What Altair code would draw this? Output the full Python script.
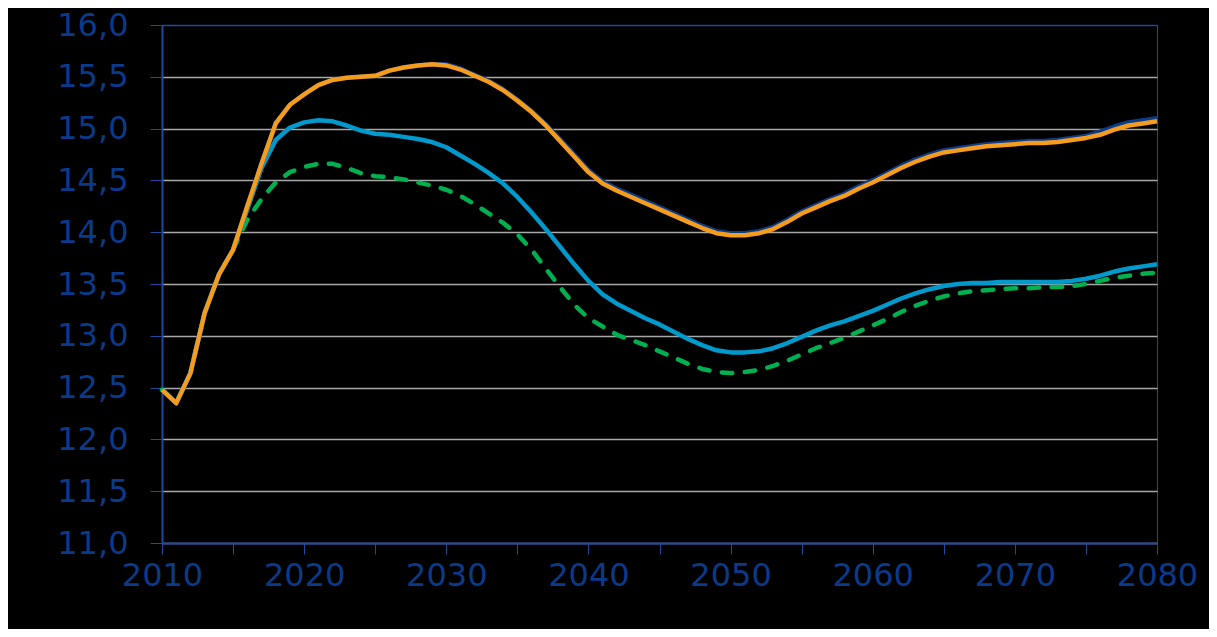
import altair as alt
import pandas as pd

years = list(range(2010, 2081))

orange = [12.48, 12.35, 12.64, 13.22, 13.59, 13.83, 14.25, 14.66, 15.05, 15.23,
          15.33, 15.42, 15.47, 15.49, 15.50, 15.51, 15.56, 15.59, 15.61, 15.62,
          15.61, 15.57, 15.51, 15.45, 15.37, 15.27, 15.16, 15.03, 14.88, 14.73,
          14.58, 14.47, 14.40, 14.34, 14.28, 14.22, 14.16, 14.10, 14.04, 13.99,
          13.97, 13.97, 13.99, 14.03, 14.10, 14.18, 14.24, 14.30, 14.35, 14.42,
          14.48, 14.55, 14.62, 14.68, 14.73, 14.77, 14.79, 14.81, 14.83, 14.84,
          14.85, 14.86, 14.86, 14.87, 14.89, 14.91, 14.94, 14.99, 15.03, 15.05,
          15.07]

navy = [12.48, 12.35, 12.64, 13.22, 13.59, 13.83, 14.25, 14.66, 15.05, 15.23,
        15.33, 15.42, 15.47, 15.49, 15.50, 15.51, 15.56, 15.59, 15.61, 15.62,
        15.62, 15.58, 15.52, 15.46, 15.38, 15.28, 15.17, 15.04, 14.90, 14.75,
        14.60, 14.49, 14.42, 14.36, 14.30, 14.24, 14.18, 14.12, 14.06, 14.01,
        13.99, 13.99, 14.01, 14.05, 14.12, 14.20, 14.26, 14.32, 14.37, 14.44,
        14.50, 14.57, 14.64, 14.70, 14.75, 14.79, 14.81, 14.83, 14.85, 14.86,
        14.87, 14.88, 14.88, 14.89, 14.91, 14.93, 14.97, 15.02, 15.06, 15.08,
        15.10]

light_blue = [12.48, 12.35, 12.64, 13.22, 13.59, 13.83, 14.22, 14.62, 14.89, 15.01,
              15.06, 15.08, 15.07, 15.03, 14.98, 14.95, 14.94, 14.92, 14.90, 14.87,
              14.82, 14.74, 14.66, 14.57, 14.47, 14.34, 14.19, 14.03, 13.86, 13.69,
              13.53, 13.40, 13.31, 13.24, 13.17, 13.11, 13.04, 12.97, 12.91, 12.86,
              12.84, 12.84, 12.85, 12.88, 12.93, 12.99, 13.05, 13.10, 13.14, 13.19,
              13.24, 13.30, 13.36, 13.41, 13.45, 13.48, 13.50, 13.51, 13.51, 13.52,
              13.52, 13.52, 13.52, 13.52, 13.53, 13.55, 13.58, 13.62, 13.65, 13.67,
              13.69]

green = [12.48, 12.35, 12.64, 13.22, 13.59, 13.83, 14.12, 14.32, 14.48, 14.58,
         14.63, 14.66, 14.66, 14.62, 14.57, 14.54, 14.53, 14.51, 14.48, 14.45,
         14.41, 14.35, 14.27, 14.18, 14.09, 13.98, 13.83, 13.65, 13.47, 13.30,
         13.17, 13.09, 13.01, 12.96, 12.91, 12.85, 12.79, 12.73, 12.68, 12.65,
         12.64, 12.65, 12.67, 12.71, 12.76, 12.82, 12.88, 12.93, 12.98, 13.04,
         13.10, 13.16, 13.23, 13.29, 13.34, 13.38, 13.41, 13.43, 13.44, 13.45,
         13.46, 13.46, 13.47, 13.47, 13.48, 13.50, 13.53, 13.56, 13.58, 13.60,
         13.61]

series = {"green": green, "light_blue": light_blue, "navy": navy, "orange": orange}
colors = {"green": "#00B050", "light_blue": "#0099CC", "navy": "#0A3C8C", "orange": "#F49C1E"}

rows = []
for name, vals in series.items():
    for y, v in zip(years, vals):
        rows.append({"year": y, "value": v, "series": name})
df = pd.DataFrame(rows)

AXIS_BLUE = "#1F4A9E"
LABEL_BLUE = "#0B3A8A"

x_enc = alt.X("year:Q",
              scale=alt.Scale(domain=[2010, 2080], nice=False, zero=False),
              axis=alt.Axis(values=list(range(2010, 2081, 5)),
                            labelExpr="datum.value % 10 == 0 ? datum.label : ''",
                            format="d", grid=False, title=None,
                            domainColor=AXIS_BLUE, domainWidth=2,
                            tickColor=AXIS_BLUE, tickWidth=1, tickSize=11,
                            labelColor=LABEL_BLUE, labelFont="DejaVu Sans",
                            labelFontSize=32, labelPadding=6, labelFlush=False,
                            labelOverlap=False))
y_enc = alt.Y("value:Q",
              scale=alt.Scale(domain=[11, 16], nice=False, zero=False),
              axis=alt.Axis(values=[11 + 0.5 * i for i in range(11)],
                            labelExpr="replace(format(datum.value, '.1f'), '.', ',')",
                            title=None, grid=True,
                            gridColor=alt.condition("datum.value >= 16", alt.value(AXIS_BLUE), alt.value("#A8A8A8")),
                            gridWidth=1.5,
                            domainColor=AXIS_BLUE, domainWidth=2,
                            tickColor=AXIS_BLUE, tickWidth=1, tickSize=12,
                            labelColor=LABEL_BLUE, labelFont="DejaVu Sans",
                            labelFontSize=32, labelPadding=22,
                            labelOverlap=False))

layers = []
for name in ["green", "light_blue", "navy", "orange"]:
    kw = dict(color=colors[name], strokeWidth=4.5, strokeJoin="round")
    if name == "green":
        kw.update(strokeDash=[10.5, 12.5], strokeCap="round")
    else:
        kw.update(strokeCap="butt")
    layers.append(
        alt.Chart(df).transform_filter(alt.datum.series == name)
        .mark_line(**kw).encode(x=x_enc, y=y_enc)
    )

chart = alt.layer(*layers).properties(
    width=995, height=518,
    background="black",
    autosize=alt.AutoSizeParams(type="none"),
    padding={"left": 154, "top": 17, "right": 52, "bottom": 86},
).configure_view(stroke=AXIS_BLUE, strokeWidth=1)

chart.save("out.html", embed_options={"renderer": "svg", "actions": False})
